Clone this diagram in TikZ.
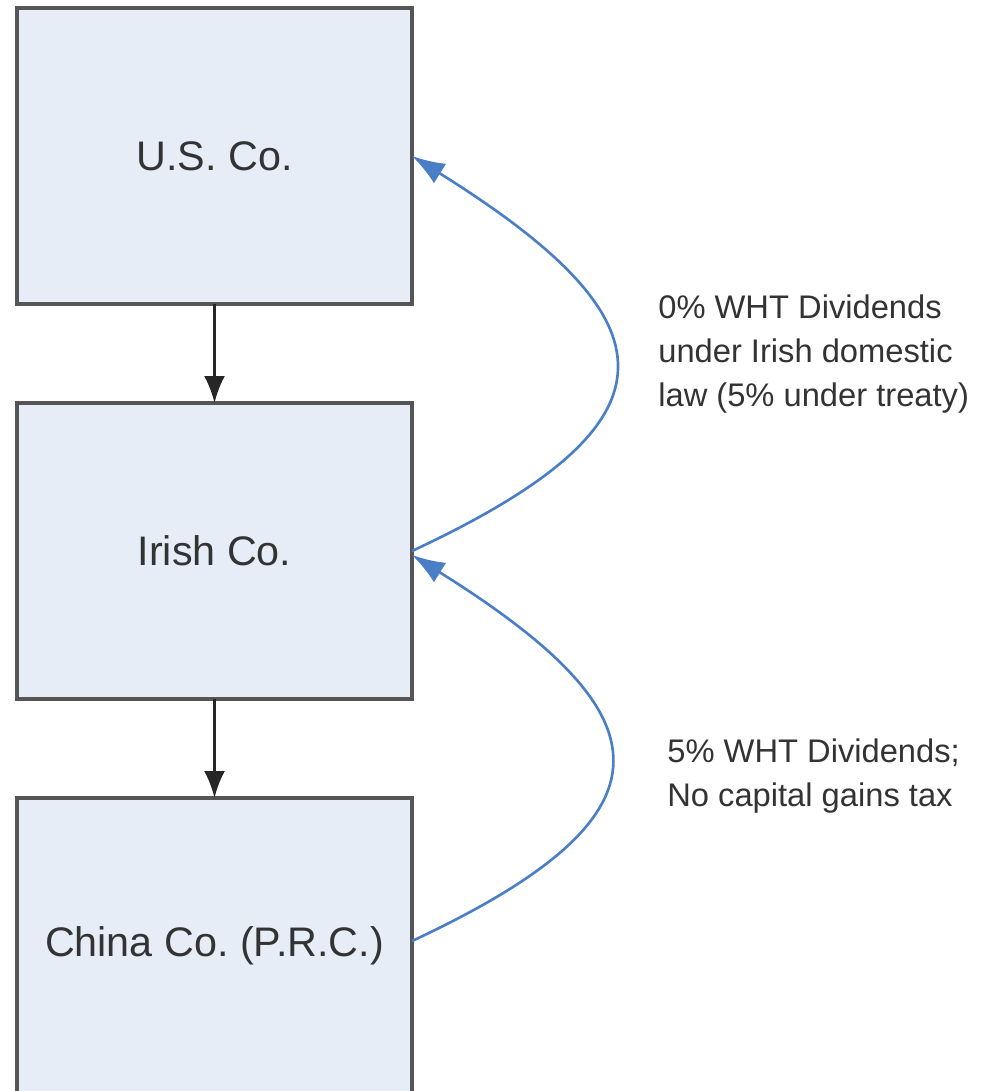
\documentclass[tikz,border=0pt]{standalone}
\usepackage{fontspec}
\setmainfont{Liberation Sans}
\usepackage{tikz}
\usetikzlibrary{arrows.meta,positioning}

\definecolor{boxfill}{RGB}{230,237,247}
\definecolor{boxline}{RGB}{85,85,85}
\definecolor{flowblue}{RGB}{74,126,199}

\tikzset{
  company/.style={draw=boxline, fill=boxfill, line width=1.8pt, outer sep=0pt,
    minimum width=7.9cm, minimum height=5.92cm, text=black!80,
    font=\fontsize{23.5}{28}\selectfont},
  owns/.style={-{Latex[length=0.54cm,width=0.42cm]}, line width=1.6pt, black!85},
  payflow/.style={-{Latex[length=0.66cm,width=0.46cm]}, line width=1.5pt, flowblue},
  note/.style={align=left, anchor=west, inner sep=0pt, text=black!80,
    font=\fontsize{18.6}{25}\selectfont}
}

\begin{document}
\frenchspacing
\begin{tikzpicture}[>=latex]
\useasboundingbox (0,0) rectangle (20.1,-21.82);
% companies
    \node[company] (us) at (4.29,-3.12) {U.S. Co.};
    \node[company, below=1.98cm of us] (irish) {Irish Co.};
    \node[company, below=1.98cm of irish] (china) {China Co. (P.R.C.)};

    \draw[owns] (us) -- (irish);
    \draw[owns] (irish) -- (china);

% dividends back up
    \draw[payflow] (irish.east) to[out=25, in=-32, looseness=2] (us.east);
    \draw[payflow] ([yshift=0.1cm]china.east) to[out=25, in=-32, looseness=2] ([yshift=-0.08cm]irish.east);

    \node[note] (wht0) at (13.16,-7.08) {0\% WHT Dividends\\under Irish domestic\\law (5\% under treaty)};
    \node[note] (wht5) at (13.34,-15.52) {5\% WHT Dividends;\\No capital gains tax};
  \end{tikzpicture}
\end{document}
